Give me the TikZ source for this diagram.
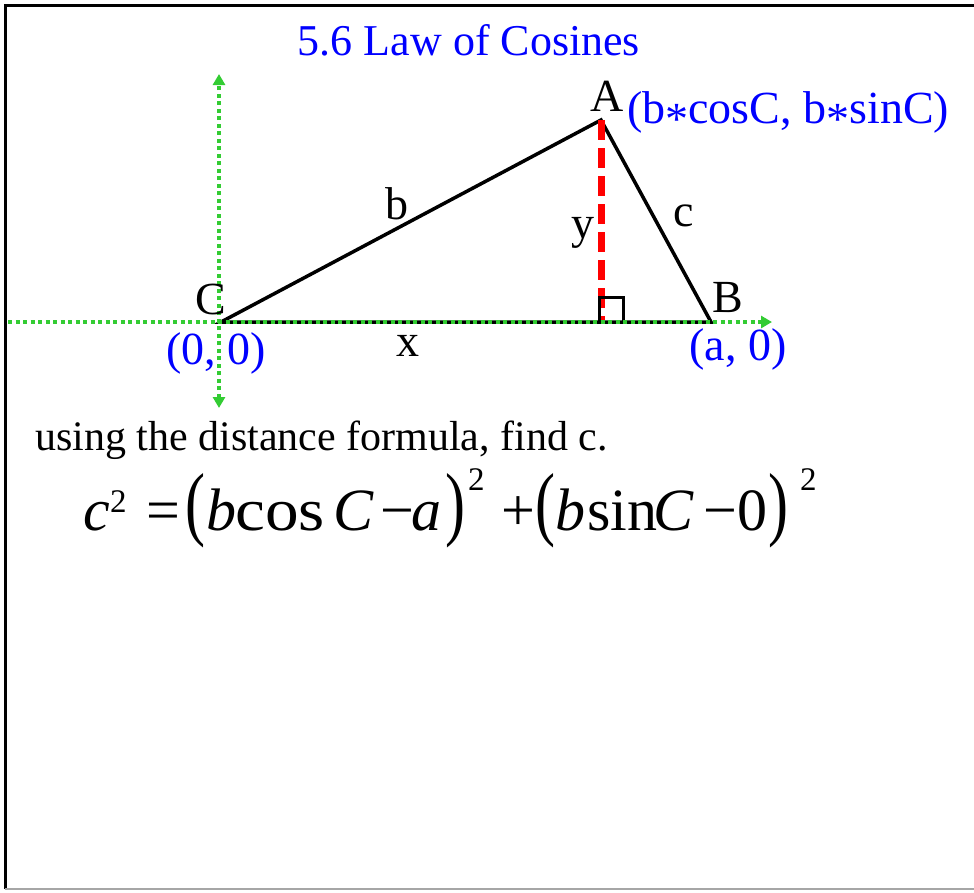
\documentclass[tikz,border=0pt]{standalone}
\usepackage{fontspec}
\setmainfont{Liberation Serif}
\usepackage{graphicx}
\usetikzlibrary{arrows.meta}
\definecolor{axisgreen}{RGB}{51,204,51}
\newcommand\ptsize[1]{\fontsize{#1}{#1}\selectfont}
\newcommand\tallparen[1]{\scalebox{1}[1.37]{#1}}
\newcommand\sqr[1]{\raisebox{#1}{\ptsize{33}2}}
\newcommand\midast{\raisebox{-0.25em}{*}}
\newcommand\slot[2]{\makebox[#1][l]{#2}}

\begin{document}
\begin{tikzpicture}[x=1pt,y=-1pt,line join=miter,
  >={Triangle[length=11pt,width=12pt]},
  lbl/.style={font=\ptsize{46},inner sep=0pt},
  coordlbl/.style={font=\ptsize{46},text=blue,inner sep=0pt},
  side/.style={line width=3.5pt},
  axis/.style={axisgreen,line width=3.5pt,dash pattern=on 4pt off 3.5pt}]
  \useasboundingbox (0,0) rectangle (974,892);
  % frame of the slide
  \draw[line width=3pt] (974,5) -- (5,5) -- (5,889);
  \draw[gray!70,line width=1.5pt] (5,889) -- (974,889);
  \coordinate (C) at (221,322);
  \coordinate (A) at (601,120);
  \coordinate (B) at (711,322);
  \coordinate (H) at (601,322);
  \coordinate (xl) at (8,322);
  \coordinate (xr) at (772,322);
  \coordinate (yt) at (219,74);
  \coordinate (yb) at (219,408);
  \draw[side] (C)--(A)--(B)--cycle;
  \draw[red,line width=7pt,dash pattern=on 20pt off 8pt] (A)--(H);
  \draw[line width=3pt] ([shift={(-2,0)}]H) |- ([shift={(22,-25)}]H) -- ([shift={(22,0)}]H);
  \draw[axis,->] (xl)--(xr);
  \draw[axis,<->] (yb)--(yt);
  \node[lbl] (labA) at (607,96) {A};
  \node[lbl] (labB) at (728,298) {B};
  \node[lbl] (labC) at (211,299) {C};
  \node[lbl] (labb) at (397,204) {b};
  \node[lbl] (labc) at (684,216) {c};
  \node[lbl] (laby) at (583,233) {y};
  \node[lbl] (labx) at (408,346) {x};
  \node[coordlbl] (ptA) at (788,113) {(b\midast cosC, b\midast sinC)};
  \node[coordlbl] (ptC) at (216,353) {(0, 0)};
  \node[coordlbl] (ptB) at (738,349) {(a, 0)};
  \node[font=\ptsize{44},text=blue,anchor=base] (title) at (469,55) {5.6 Law of Cosines};
  \node[font=\ptsize{42},anchor=base west,inner sep=0pt] (hint) at (35,450) {using the distance formula, find c.};
  % distance formula, pieces set at the slide's spacing
  \node[font=\ptsize{60},anchor=base west,inner sep=0pt] (law) at (83,530)
    {\slot{27pt}{\textit{c}}\slot{36pt}{\sqr{18pt}}\slot{39pt}{=}\slot{21pt}{\tallparen{(}}%
     \slot{29pt}{\textit{b}}\slot{98pt}{\scalebox{1.12}[1]{cos}}\slot{47pt}{\textit{C}}\slot{31pt}{−}%
     \slot{34pt}{\textit{a}}\slot{23pt}{\tallparen{)}}\slot{33pt}{\sqr{40pt}}\slot{34pt}{+}%
     \slot{20pt}{\tallparen{(}}\slot{32pt}{\textit{b}}\slot{66pt}{sin}\slot{50pt}{\textit{C}}%
     \slot{34pt}{−}\slot{31pt}{0}\slot{32pt}{\tallparen{)}}\sqr{40pt}};
\end{tikzpicture}
\end{document}
